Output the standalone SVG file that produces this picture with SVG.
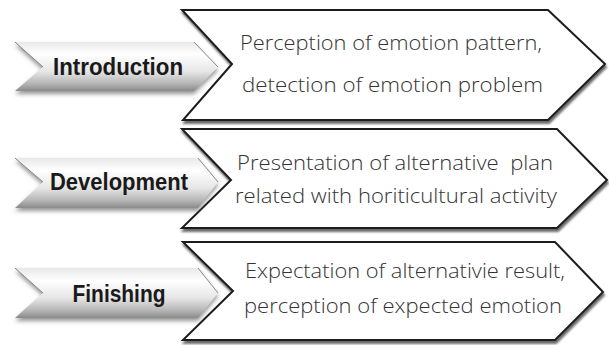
<svg xmlns="http://www.w3.org/2000/svg" width="609" height="345" viewBox="0 0 609 345">
<style>
.big{fill:#fff;stroke:#1e1e1e;stroke-width:2;stroke-linejoin:miter;filter:url(#sh)}
.tab{fill:url(#g);filter:url(#sh2)}
.tabedge{fill:none;stroke:#888;stroke-width:1}
.lab{font-family:"Liberation Sans",Arial,sans-serif;font-weight:bold;font-size:23px;fill:#1a1a1a;text-anchor:middle}
.txt{font-family:"Open Sans","Liberation Sans",sans-serif;font-weight:300;font-size:20px;fill:#333;white-space:pre}
</style>
<defs>
<linearGradient id="g" x1="0" y1="0" x2="0" y2="1">
<stop offset="0" stop-color="#e8e8e8"/>
<stop offset="0.25" stop-color="#ffffff"/>
<stop offset="0.6" stop-color="#e6e6e6"/>
<stop offset="0.85" stop-color="#b5b5b5"/>
<stop offset="1" stop-color="#8a8a8a"/>
</linearGradient>
<filter id="sh" x="-5%" y="-10%" width="115%" height="125%">
<feDropShadow dx="1" dy="3" stdDeviation="1" flood-color="#444" flood-opacity="0.8"/>
</filter>
<filter id="sh2" x="-5%" y="-20%" width="115%" height="150%">
<feDropShadow dx="0" dy="3" stdDeviation="2" flood-color="#666" flood-opacity="0.7"/>
</filter>
</defs>
<g id="connectors"/>
<g id="row1-detail">
<polygon class="big" points="182,10 548,10 605,64 548,120 183,120 232,64"/>
<text class="txt" x="240" y="50" textLength="302" lengthAdjust="spacingAndGlyphs">Perception of emotion pattern,</text>
<text class="txt" x="242" y="92" textLength="301" lengthAdjust="spacingAndGlyphs">detection of emotion problem</text>
</g>
<g id="row2-detail">
<polygon class="big" points="182,129 557,129 607,180 557,228 182,228 231,180"/>
<text class="txt" x="237" y="170" textLength="316" lengthAdjust="spacingAndGlyphs" xml:space="preserve">Presentation of alternative  plan</text>
<text class="txt" x="235" y="203" textLength="322" lengthAdjust="spacingAndGlyphs">related with horiticultural activity</text>
</g>
<g id="row3-detail">
<polygon class="big" points="183,242 555,242 603,292 555,340 183,340 233,291"/>
<text class="txt" x="245" y="278" textLength="320" lengthAdjust="spacingAndGlyphs">Expectation of alternativie result,</text>
<text class="txt" x="244" y="313" textLength="318" lengthAdjust="spacingAndGlyphs">perception of expected emotion</text>
</g>
<g id="introduction">
<polygon class="tab" points="15,42 194,42 218,67 194,91 15,91 43,67"/>
<polyline class="tabedge" points="15,42 43,67"/>
<polyline class="tabedge" points="194,42 218,67"/>
<text class="lab" x="118" y="75" textLength="130" lengthAdjust="spacingAndGlyphs">Introduction</text>
</g>
<g id="development">
<polygon class="tab" points="15,158 198,158 218,182 198,208 15,208 43,182"/>
<polyline class="tabedge" points="15,158 43,182"/>
<polyline class="tabedge" points="198,158 218,182"/>
<text class="lab" x="119" y="190" textLength="138" lengthAdjust="spacingAndGlyphs">Development</text>
</g>
<g id="finishing">
<polygon class="tab" points="15,268 198,268 218,293 198,318 15,318 43,293"/>
<polyline class="tabedge" points="15,268 43,293"/>
<polyline class="tabedge" points="198,268 218,293"/>
<text class="lab" x="119" y="302" textLength="93" lengthAdjust="spacingAndGlyphs">Finishing</text>
</g>
</svg>
